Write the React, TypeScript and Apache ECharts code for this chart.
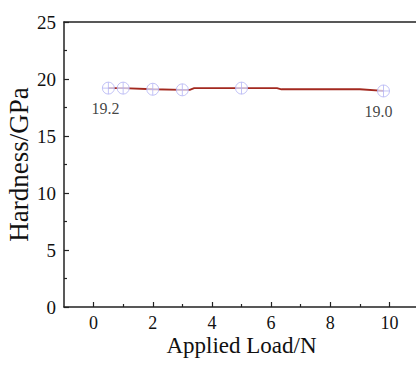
import React, { useEffect, useRef } from "react";
import * as echarts from "echarts";

const lineCurve: [number, number][] = [
  [0.5, 19.2], [1, 19.2], [2, 19.1], [3, 19.05], [3.25, 19.05], [3.4, 19.2],
  [6.2, 19.2], [6.35, 19.1], [9.0, 19.1], [9.8, 18.95],
];
const markerPoints: [number, number][] = [
  [0.5, 19.2], [1, 19.2], [2, 19.1], [3, 19.05], [5, 19.2], [9.8, 18.95],
];
const labelTexts = ["19.2", "", "", "", "", "19.0"];
const xMajor = [0, 2, 4, 6, 8, 10];
const xMinor = [1, 3, 5, 7, 9];

const FONT = "Liberation Serif";
const markerPath =
  "path://M0,-6A6,6 0 1,1 0,6A6,6 0 1,1 0,-6ZM-6,0L6,0M0,-6L0,6";

export default function App() {
  const ref = useRef<HTMLDivElement>(null);
  useEffect(() => {
    if (!ref.current) return;
    const chart = echarts.init(ref.current, undefined, { renderer: "svg" });
    const axisLine = { show: true, onZero: false, lineStyle: { color: "#222", width: 1.5 } };
    chart.setOption({
      animation: false,
      backgroundColor: "#fff",
      textStyle: { fontFamily: FONT, color: "#111" },
      grid: { left: 64, top: 22, bottom: 58, right: -3, outerBoundsMode: "none" },
      xAxis: [
        {
          type: "value",
          min: -1,
          max: 11,
          position: "bottom",
          name: "Applied Load/N",
          nameLocation: "middle",
          nameGap: 27,
          nameMoveOverlap: false,
          nameTextStyle: { fontFamily: FONT, fontSize: 23, color: "#111" },
          axisLine,
          axisTick: { show: true, inside: true, length: 5, customValues: xMajor, lineStyle: { color: "#222", width: 1.2 } },
          axisLabel: { customValues: xMajor, fontFamily: FONT, fontSize: 18, color: "#111", margin: 7 },
          splitLine: { show: false },
        },
        {
          type: "value",
          min: -1,
          max: 11,
          position: "bottom",
          axisLine: { show: false, onZero: false },
          axisTick: { show: true, inside: true, length: 3, customValues: xMinor, lineStyle: { color: "#222", width: 1.2 } },
          axisLabel: { show: false },
          splitLine: { show: false },
        },
        {
          type: "value",
          min: -1,
          max: 11,
          position: "top",
          axisLine,
          axisTick: { show: false },
          axisLabel: { show: false },
          splitLine: { show: false },
        },
      ],
      yAxis: {
        type: "value",
        min: 0,
        max: 25,
        interval: 5,
        name: "Hardness/GPa",
        nameLocation: "middle",
        nameGap: 32,
        nameMoveOverlap: false,
        nameTextStyle: { fontFamily: FONT, fontSize: 27, color: "#111" },
        axisLine,
        axisTick: { show: true, inside: true, length: 5, lineStyle: { color: "#222", width: 1.2 } },
        minorTick: { show: true, splitNumber: 2, length: 3, lineStyle: { color: "#222", width: 1.2 } },
        axisLabel: { fontFamily: FONT, fontSize: 19, color: "#111", margin: 8 },
        splitLine: { show: false },
      },
      series: [
        {
          type: "line",
          data: lineCurve,
          showSymbol: false,
          symbol: "none",
          lineStyle: { color: "#a3291f", width: 1.8 },
          z: 2,
        },
        {
          type: "scatter",
          data: markerPoints.map((p, i) => ({
            value: p,
            label: labelTexts[i]
              ? {
                  show: true,
                  formatter: labelTexts[i],
                  position: "bottom",
                  distance: 6,
                  offset: [i === 0 ? -3 : -5, 0],
                  fontFamily: FONT,
                  fontSize: 16,
                  color: "#111",
                }
              : { show: false },
          })),
          symbol: markerPath,
          symbolSize: 12,
          itemStyle: { color: "rgba(255,255,255,0.85)", borderColor: "#b4b4f4", borderWidth: 1 },
          z: 3,
        },
      ],
    });
    return () => chart.dispose();
  }, []);
  return (
    <div
      ref={ref}
      style={{ position: "absolute", left: 0, top: 0, width: 416, height: 365 }}
    />
  );
}
